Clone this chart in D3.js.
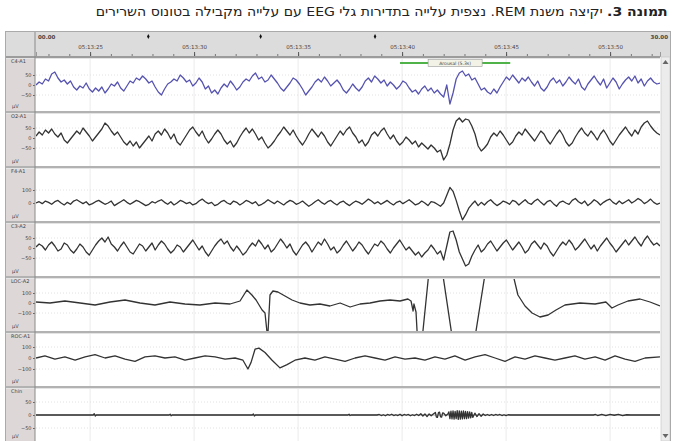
<!DOCTYPE html>
<html>
<head>
<meta charset="utf-8">
<script src="https://cdn.jsdelivr.net/npm/d3@7"></script>
<style>
  body { margin: 0; background: #fff; }
  #title {
    position: absolute; top: 4px; right: 7px;
    direction: rtl; text-align: right; white-space: nowrap;
    font-family: "DejaVu Sans Condensed", "DejaVu Sans", sans-serif;
    font-size: 13px; color: #222; transform-origin: right center;
  }
  #chart { position: absolute; left: 0; top: 0; }
  .lbl { font-family: "DejaVu Sans", sans-serif; fill: #444; }
</style>
</head>
<body>
<div id="title"></div>
<svg id="chart" width="675" height="441"></svg>
<script>
// epoch is 30 s long, channels 1-4 are evenly sampled over it
const channelNames = ["C4-A1", "O2-A1", "F4-A1", "C3-A2", "LOC-A2", "ROC-A1", "Chin"];
const unitLabel = "µV";

const clockTicks = [2.6, 7.6, 12.6, 17.6, 22.6, 27.6];
const clockLabels = ["05:13:25", "05:13:30", "05:13:35", "05:13:40", "05:13:45", "05:13:50"];
const epochMarks = [5.4, 10.8, 16.3];
const epochLabels = ["00.00", "30.00"];

const events = [{ label: "Arousal (5.3s)", start: 17.5, end: 22.8 }];

const ch1Values = [
  0, 15, 5, 30, 20, 55, 65, 35, 15, 25,
  5, 20, -10, -25, -5, -15, 10, -20, -35, -15,
  -30, -10, -40, -20, 5, -5, 15, -15, -30, -5,
  20, 10, 35, 25, 45, 30, 10, 20, -10, -35,
  -50, -20, 5, 15, 30, 20, 50, 35, 15, 25,
  -5, 10, 35, 15, -20, -5, -40, -25, -45, -15,
  5, -10, 20, 0, -25, -10, 15, 30, 20, 45,
  60, 30, 40, 15, 25, 50, 30, 10, -15, -30,
  -10, 10, 35, 25, 5, -20, -50, -30, -10, 15,
  30, 15, 40, 20, -5, 10, 25, 5, -25, -40,
  -20, 5, -15, -30, -10, 20, 35, 15, 45, 30,
  10, 25, -5, 15, 0, -20, -5, 20, 10, -15,
  -35, -25, -45, -20, -5, -30, -15, -40, -25, -45,
  -60, 0, -95, -40, 30, 60, 70, 45, 55, 25,
  35, 5, -25, -15, -35, -45, -20, -40, -10, 15,
  40, 25, 50, 30, 10, 35, 20, 40, 15, -5,
  20, -15, -30, -10, 20, 35, 10, 25, -5, 15,
  40, 20, 5, 30, -10, -25, 5, 25, 45, 20,
  0, 30, -15, 10, 35, 15, -20, 5, 25, 40,
  20, 45, 10, 30, -5, 20, 35, 15, 5, 10
];

const ch2Values = [
  10, 30, 15, 40, 25, 45, 20, 5, 25, -10,
  -25, -5, 15, 35, 20, 50, 30, 10, -15, 5,
  25, 45, 75, 60, 35, 15, 30, 5, -20, -35,
  -15, -40, -20, -50, -30, -10, 10, -15, 20, 35,
  15, 45, 25, -5, 20, -20, -35, -10, 15, 40,
  55, 30, 10, 35, 0, -25, -5, 20, 40, 20,
  -10, -30, -15, -45, -25, 5, 30, 50, 25, 45,
  20, -10, 5, -25, -50, -35, -15, 10, 30, 55,
  35, 15, 40, 10, -15, -35, -10, 20, 45, 25,
  5, 30, 10, -20, -40, -15, 10, 35, 15, 40,
  55, 25, 5, -25, -10, -40, -20, 15, 30, 10,
  35, 50, 20, -5, 15, -15, -35, -20, 5, -10,
  -30, -15, -45, -25, -40, -55, -35, -50, -70, -60,
  -110, -85, -30, 40, 85, 100, 80, 95, 90, 60,
  20, -40, -65, -50, -30, 5, 25, 10, 35, 15,
  -10, -35, -20, 10, 30, 15, 45, 25, 5, -15,
  10, 35, 20, -10, -30, -5, 20, 40, 15, -20,
  -40, -25, 5, 30, 50, 25, 10, 35, 15, -10,
  20, 40, 15, -15, -35, -10, 15, 35, 55, 30,
  10, 40, 20, 55, 75, 85, 60, 40, 25, 15
];

const ch3Values = [
  0, 10, -5, 15, 5, -10, 10, 20, 0, -15,
  5, -10, 15, 25, 10, -5, 10, -15, -5, 10,
  20, 5, -10, 0, 15, -20, -5, 10, 25, 5,
  -10, 5, 20, 10, -5, -20, -10, 10, 0, 15,
  25, 5, -10, 10, -15, 0, 20, 10, -5, 5,
  -15, -5, 15, 30, 10, -5, 5, -20, -10, 10,
  20, 0, -10, 15, 5, -15, 0, 20, 10, -5,
  10, -20, -10, 5, 25, 10, -5, 15, 0, -15,
  5, 20, 10, -10, 0, 15, -5, -25, -10, 10,
  25, 5, -10, 10, 20, 0, -15, 5, 15, -5,
  -20, 0, 15, 5, -10, 10, 30, 15, -5, 10,
  -10, 5, 20, 0, -15, 5, 15, -5, 10, 25,
  5, -15, -5, 15, 0, -20, 10, 5, -10, -25,
  0, 60, 120, 90, 20, -60, -130, -90, -40, -10,
  15, -20, 5, -15, 10, 25, 0, -20, -5, 15,
  5, -10, 20, 10, -15, 5, 25, 0, -10, 15,
  30, 5, -15, 10, 20, -5, -25, 5, 15, 0,
  -10, 20, 35, 10, -5, 15, -20, 0, 25, 10,
  -15, 5, 20, 30, 5, -10, 15, -5, 10, 25,
  0, 15, 35, 20, -5, 10, 30, 5, -10, 0
];

const ch4Values = [
  5, 20, 10, -10, 15, 30, 10, -15, -5, 25,
  15, -10, -25, -5, 20, 5, -20, -35, -10, 15,
  35, 50, 30, 55, 20, 5, -15, 10, 30, 5,
  -20, -30, -5, 20, 10, -15, 5, 25, -10, 15,
  35, 20, -5, -25, -10, 15, 5, -20, 0, 20,
  40, 15, -10, 10, -20, -40, -15, 10, 30, 45,
  20, 35, 5, -15, 10, -10, -35, -20, 5, 25,
  10, 40, 20, -5, 15, -20, -5, 20, 45, 25,
  0, 20, -15, -35, -10, 15, 30, 10, -20, 5,
  30, 15, 45, 20, -10, 5, -25, -10, 15, 35,
  10, -15, 5, 30, 15, -10, -30, -5, 20, 10,
  35, 20, -5, -25, 0, 20, 40, 15, -10, 5,
  -15, -35, -20, -45, -25, -10, 15, -5, -30, -15,
  -60, 10, 80, 85, 40, -20, -55, -90, -80, -40,
  -10, 15, -20, -5, 20, 35, 10, -15, 5, 25,
  40, 15, -10, 10, 30, 5, -25, -10, 20, 35,
  15, -5, 25, 10, -20, -40, -15, 10, 30, 15,
  40, 20, -10, 5, 25, 45, 20, -5, 15, -15,
  10, 30, 50, 25, 5, -20, 0, 20, 40, 15,
  35, 55, 30, 10, 40, 60, 35, 15, 25, 10
];

// [seconds, µV]
const ch5Points = [
  [0, 10], [0.67, 0], [1.39, 20], [2.12, 0], [2.84, -20], [3.56, 10], [4.28, 30],
  [5.0, 0], [5.72, -20], [6.44, 10], [7.16, -10], [7.88, -20], [8.61, 0], [9.33, -10],
  [9.81, 20], [10.14, 130], [10.38, 80], [10.58, 30], [10.87, -70], [11.01, -100],
  [11.11, -300], [11.15, -310], [11.25, 80], [11.39, 120], [11.63, 110], [11.97, 70],
  [12.31, 30], [12.69, 0], [13.17, -20], [13.65, -10], [14.13, -30], [14.62, 0],
  [15.1, -40], [15.58, -10], [16.06, 0], [16.54, 20], [17.02, 30], [17.5, 20],
  [17.88, 40], [18.03, 20], [18.13, -80], [18.17, -10], [18.27, -90], [18.37, -470],
  [18.51, -470], [18.94, 410], [19.47, 410], [20.1, -470], [21.01, -470], [21.68, 410],
  [22.79, 410], [23.17, 80], [23.51, -30], [23.85, -100], [24.23, -140], [24.62, -120],
  [25.0, -70], [25.43, -20], [26.15, 0], [26.88, -10], [27.4, 10], [27.69, -50],
  [27.98, -20], [28.46, 20], [29.04, 40], [29.52, 10], [30, -30]
];

const ch6Points = [
  [0, 0], [0.43, 20], [0.91, -10], [1.39, 10], [1.88, -20], [2.36, 10], [2.84, 30],
  [3.32, 0], [3.8, 20], [4.28, -10], [4.76, -30], [5.24, 10], [5.72, 20], [6.2, 0],
  [6.68, 10], [7.16, -20], [7.64, 0], [8.13, 20], [8.61, 10], [9.09, -10], [9.57, 0],
  [9.95, -20], [10.19, -100], [10.34, -40], [10.53, 80], [10.72, 90], [11.01, 50],
  [11.35, -20], [11.73, -90], [12.07, -60], [12.45, -20], [12.93, 0], [13.41, -20],
  [13.89, 10], [14.38, -10], [14.86, -30], [15.34, 0], [15.82, 20], [16.3, 0],
  [16.78, -20], [17.26, 10], [17.74, -10], [18.22, 0], [18.7, -20], [19.18, 10],
  [19.66, -10], [20.14, 20], [20.63, -20], [21.11, 10], [21.59, 30], [22.07, 0],
  [22.55, -30], [23.03, 10], [23.51, -10], [23.99, 20], [24.47, 0], [24.95, -20],
  [25.43, 0], [25.91, 20], [26.39, -10], [26.88, 10], [27.36, -20], [27.84, 20],
  [28.32, -10], [28.8, -30], [29.28, 0], [30, 10]
];

const ch7Points = [
  [0, 0], [2.75, 0], [2.8, 5], [2.85, -4], [2.9, 0], [6.4, 0], [6.45, 3], [6.5, -3],
  [6.55, 0], [10.4, 0], [10.45, 4], [10.5, -4], [10.55, 0], [15.0, 0], [15.05, 3],
  [15.1, -2], [15.15, 0],
  [16.4, 0], [16.5, 2], [16.6, -2], [16.7, 1], [16.8, -3], [16.9, 2], [17.0, -1],
  [17.1, 3], [17.2, -2], [17.3, 1], [17.4, -2], [17.5, 3], [17.6, -3], [17.7, 2],
  [17.8, -1], [17.9, 2], [18.0, -3], [18.1, 1], [18.2, -2], [18.3, 3], [18.4, -2],
  [18.5, 5], [18.6, -4], [18.7, 4], [18.8, -6], [18.9, 4], [19.0, -3], [19.1, 4],
  [19.2, 10], [19.25, -8], [19.3, -9], [19.35, 9], [19.4, 11], [19.45, -7], [19.5, -8],
  [19.55, 8], [19.6, 7], [19.7, -3], [19.8, 4],
  [19.85, 12], [19.9, -14], [19.95, 15], [20.0, -15], [20.05, 16], [20.1, -16],
  [20.15, 14], [20.2, -14], [20.25, 17], [20.3, -17], [20.35, 16], [20.4, -16],
  [20.45, 15], [20.5, -15], [20.55, 16], [20.6, -14], [20.65, 14], [20.7, -14],
  [20.75, 13], [20.8, -12], [20.85, 12], [20.9, -11], [20.95, 10],
  [21.0, -9], [21.1, 7], [21.2, -6], [21.3, 5], [21.4, -5], [21.5, 4],
  [21.6, -2], [21.7, 2], [21.8, -2], [21.9, 2], [22.0, -2], [22.1, 2], [22.2, -1],
  [22.3, 2], [22.4, -2], [22.5, 1], [22.6, -2], [22.7, 1], [22.8, 0],
  [26.8, 0], [26.9, 2], [27.0, -2], [27.2, 2], [27.4, -2], [27.6, 2], [27.8, -1],
  [28.0, 2], [28.2, -2], [28.4, 1], [28.6, 0], [30, 0]
];

const channelData = [ch1Values, ch2Values, ch3Values, ch4Values, ch5Points, ch6Points, ch7Points];

// layout and style per channel
const channelStyle = [
  { zero: 28, gain: 0.2, ticks: [50, 0, -50], color: "#5653b0" },
  { zero: 26, gain: 0.2, ticks: [50, 0, -50], color: "#333" },
  { zero: 36, gain: 0.13, ticks: [100, 0], color: "#333" },
  { zero: 26, gain: 0.2, ticks: [50, 0, -50], color: "#333" },
  { zero: 26, gain: 0.1, ticks: [100, 0, -100], color: "#333" },
  { zero: 26, gain: 0.11, ticks: [100, 0, -100], color: "#333" },
  { zero: 28, gain: 0.26, ticks: [50, 0, -50], color: "#333" },
];

const plotLeft = 36;
const plotRight = 660;
const headerTop = 31;
const headerBottom = 57;
const panelHeight = 55;

const title = d3.select("#title")
  .html("<b>תמונה 3.</b> יקיצה משנת REM. נצפית עלייה בתדירות גלי EEG עם עלייה מקבילה בטונוס השרירים");
const titleWidth = title.node().getBoundingClientRect().width;
title.style("transform", `scaleX(${572 / titleWidth})`);

const svg = d3.select("#chart");
const x = d3.scaleLinear().domain([0, 30]).range([plotLeft, plotRight]);

// frame, header band and left column
svg.append("rect").attr("x", 5).attr("y", headerTop).attr("width", 665).attr("height", 441 - headerTop)
  .attr("fill", "#fff");
svg.append("rect").attr("x", 5).attr("y", headerTop).attr("width", 665).attr("height", headerBottom - headerTop)
  .attr("fill", "#dcdcdc");
svg.append("rect").attr("x", 5).attr("y", headerBottom).attr("width", plotLeft - 6).attr("height", 441 - headerBottom)
  .attr("fill", "#ddd7d7");

// vertical grid
svg.append("g").selectAll("line")
  .data(clockTicks)
  .join("line")
  .attr("x1", (d) => x(d)).attr("x2", (d) => x(d))
  .attr("y1", headerBottom).attr("y2", 441)
  .attr("stroke", "#ebebeb").attr("stroke-width", 1);

// header time axis
const minorTicks = d3.range(0, 31, 1).map((d) => d + 0.6).filter((d) => d < 30);
svg.append("g")
  .attr("transform", `translate(0,${headerBottom - 1})`)
  .call(d3.axisTop(x).tickValues(minorTicks).tickSize(2).tickFormat(""))
  .call((g) => g.select(".domain").remove())
  .call((g) => g.selectAll("line").attr("stroke", "#777"));
svg.append("g")
  .attr("transform", `translate(0,${headerBottom - 1})`)
  .call(d3.axisTop(x).tickValues(clockTicks).tickSize(4).tickPadding(3)
    .tickFormat((d, i) => clockLabels[i]))
  .call((g) => g.select(".domain").attr("stroke", "#999"))
  .call((g) => g.selectAll("line").attr("stroke", "#555"))
  .call((g) => g.selectAll("text").attr("class", "lbl").attr("font-size", 5.5).attr("fill", "#333"));

svg.append("text").attr("class", "lbl").attr("x", plotLeft + 2).attr("y", 39)
  .attr("font-size", 5.5).attr("font-weight", "bold").text(epochLabels[0]);
svg.append("text").attr("class", "lbl").attr("x", plotRight + 8).attr("y", 39)
  .attr("font-size", 5.5).attr("font-weight", "bold").attr("text-anchor", "end").text(epochLabels[1]);
svg.append("g").selectAll("path")
  .data(epochMarks)
  .join("path")
  .attr("d", (d) => `M${x(d)},34 l1.3,2.5 l-1.3,2.5 l-1.3,-2.5 Z`)
  .attr("fill", "#111");

// channel panels
channelData.forEach((data, i) => {
  const style = channelStyle[i];
  const top = headerBottom + i * panelHeight;
  const zeroY = top + style.zero;
  const y = d3.scaleLinear().domain([0, 100]).range([zeroY, zeroY - 100 * style.gain]);
  const points = i < 4 ? data.map((v, k) => [k * 30 / (data.length - 1), v]) : data;

  const clipId = `clip-${i}`;
  svg.append("clipPath").attr("id", clipId)
    .append("rect").attr("x", plotLeft).attr("y", top + 1)
    .attr("width", plotRight - plotLeft).attr("height", panelHeight - 2);

  // faint reference lines at the non-zero ticks
  svg.append("g").selectAll("line")
    .data(style.ticks.filter((d) => d !== 0))
    .join("line")
    .attr("x1", plotLeft).attr("x2", plotRight)
    .attr("y1", (d) => y(d)).attr("y2", (d) => y(d))
    .attr("stroke", "#e2e2e2").attr("stroke-dasharray", "1,2");

  if (i === 6) {
    svg.append("line").attr("x1", plotLeft).attr("x2", plotRight)
      .attr("y1", y(0)).attr("y2", y(0)).attr("stroke", "#888").attr("stroke-width", 0.8);
  }

  svg.append("path")
    .datum(points)
    .attr("clip-path", `url(#${clipId})`)
    .attr("fill", "none")
    .attr("stroke", style.color)
    .attr("stroke-width", 1.3)
    .attr("stroke-linejoin", "round")
    .attr("d", d3.line().x((d) => x(d[0])).y((d) => y(d[1])));

  // left axis
  svg.append("g")
    .attr("transform", `translate(${plotLeft - 1},0)`)
    .call(d3.axisLeft(y).tickValues(style.ticks).tickSize(2).tickPadding(1.5))
    .call((g) => g.select(".domain").remove())
    .call((g) => g.selectAll("line").attr("stroke", "#666"))
    .call((g) => g.selectAll("text").attr("class", "lbl").attr("font-size", 5));

  svg.append("text").attr("class", "lbl").attr("x", 11).attr("y", top + 6)
    .attr("font-size", 5).text(channelNames[i]);
  svg.append("text").attr("class", "lbl").attr("x", 12).attr("y", top + panelHeight - 4)
    .attr("font-size", 5).text(unitLabel);

  // separator above the panel
  svg.append("rect").attr("x", 5).attr("y", top - 1).attr("width", plotRight - 5).attr("height", 2)
    .attr("fill", i === 0 ? "#9c9c9c" : "#b2b2b2");
  svg.append("line").attr("x1", 5).attr("x2", plotRight).attr("y1", top + 1.5).attr("y2", top + 1.5)
    .attr("stroke", "#e4e4e4");
});

// left axis line
svg.append("line").attr("x1", plotLeft - 1).attr("x2", plotLeft - 1)
  .attr("y1", headerTop).attr("y2", 441).attr("stroke", "#8a8a8a");

// scored event bar
const ev = svg.append("g").selectAll("g").data(events).join("g");
ev.append("line")
  .attr("x1", (d) => x(d.start)).attr("x2", (d) => x(d.end))
  .attr("y1", 63).attr("y2", 63)
  .attr("stroke", "#4fb34a").attr("stroke-width", 2);
ev.append("rect")
  .attr("x", (d) => (x(d.start) + x(d.end)) / 2 - 27).attr("y", 59.5)
  .attr("width", 54).attr("height", 7)
  .attr("fill", "#f2f2e6").attr("stroke", "#999").attr("stroke-width", 0.6);
ev.append("text").attr("class", "lbl")
  .attr("x", (d) => (x(d.start) + x(d.end)) / 2).attr("y", 64.8)
  .attr("text-anchor", "middle").attr("font-size", 4.6)
  .text((d) => d.label);

// scrollbar
svg.append("rect").attr("x", plotRight + 1).attr("y", headerBottom).attr("width", 9).attr("height", 441 - headerBottom)
  .attr("fill", "#ececec").attr("stroke", "#c4c4c4").attr("stroke-width", 0.6);
svg.append("path").attr("d", `M${plotRight + 5.5},60 l3,4 h-6 Z`).attr("fill", "#666");
svg.append("path").attr("d", `M${plotRight + 5.5},438 l3,-4 h-6 Z`).attr("fill", "#666");

// outer frame
svg.append("rect").attr("x", 5.5).attr("y", headerTop + 0.5).attr("width", 665).attr("height", 441 - headerTop)
  .attr("fill", "none").attr("stroke", "#aaa");
</script>
</body>
</html>
